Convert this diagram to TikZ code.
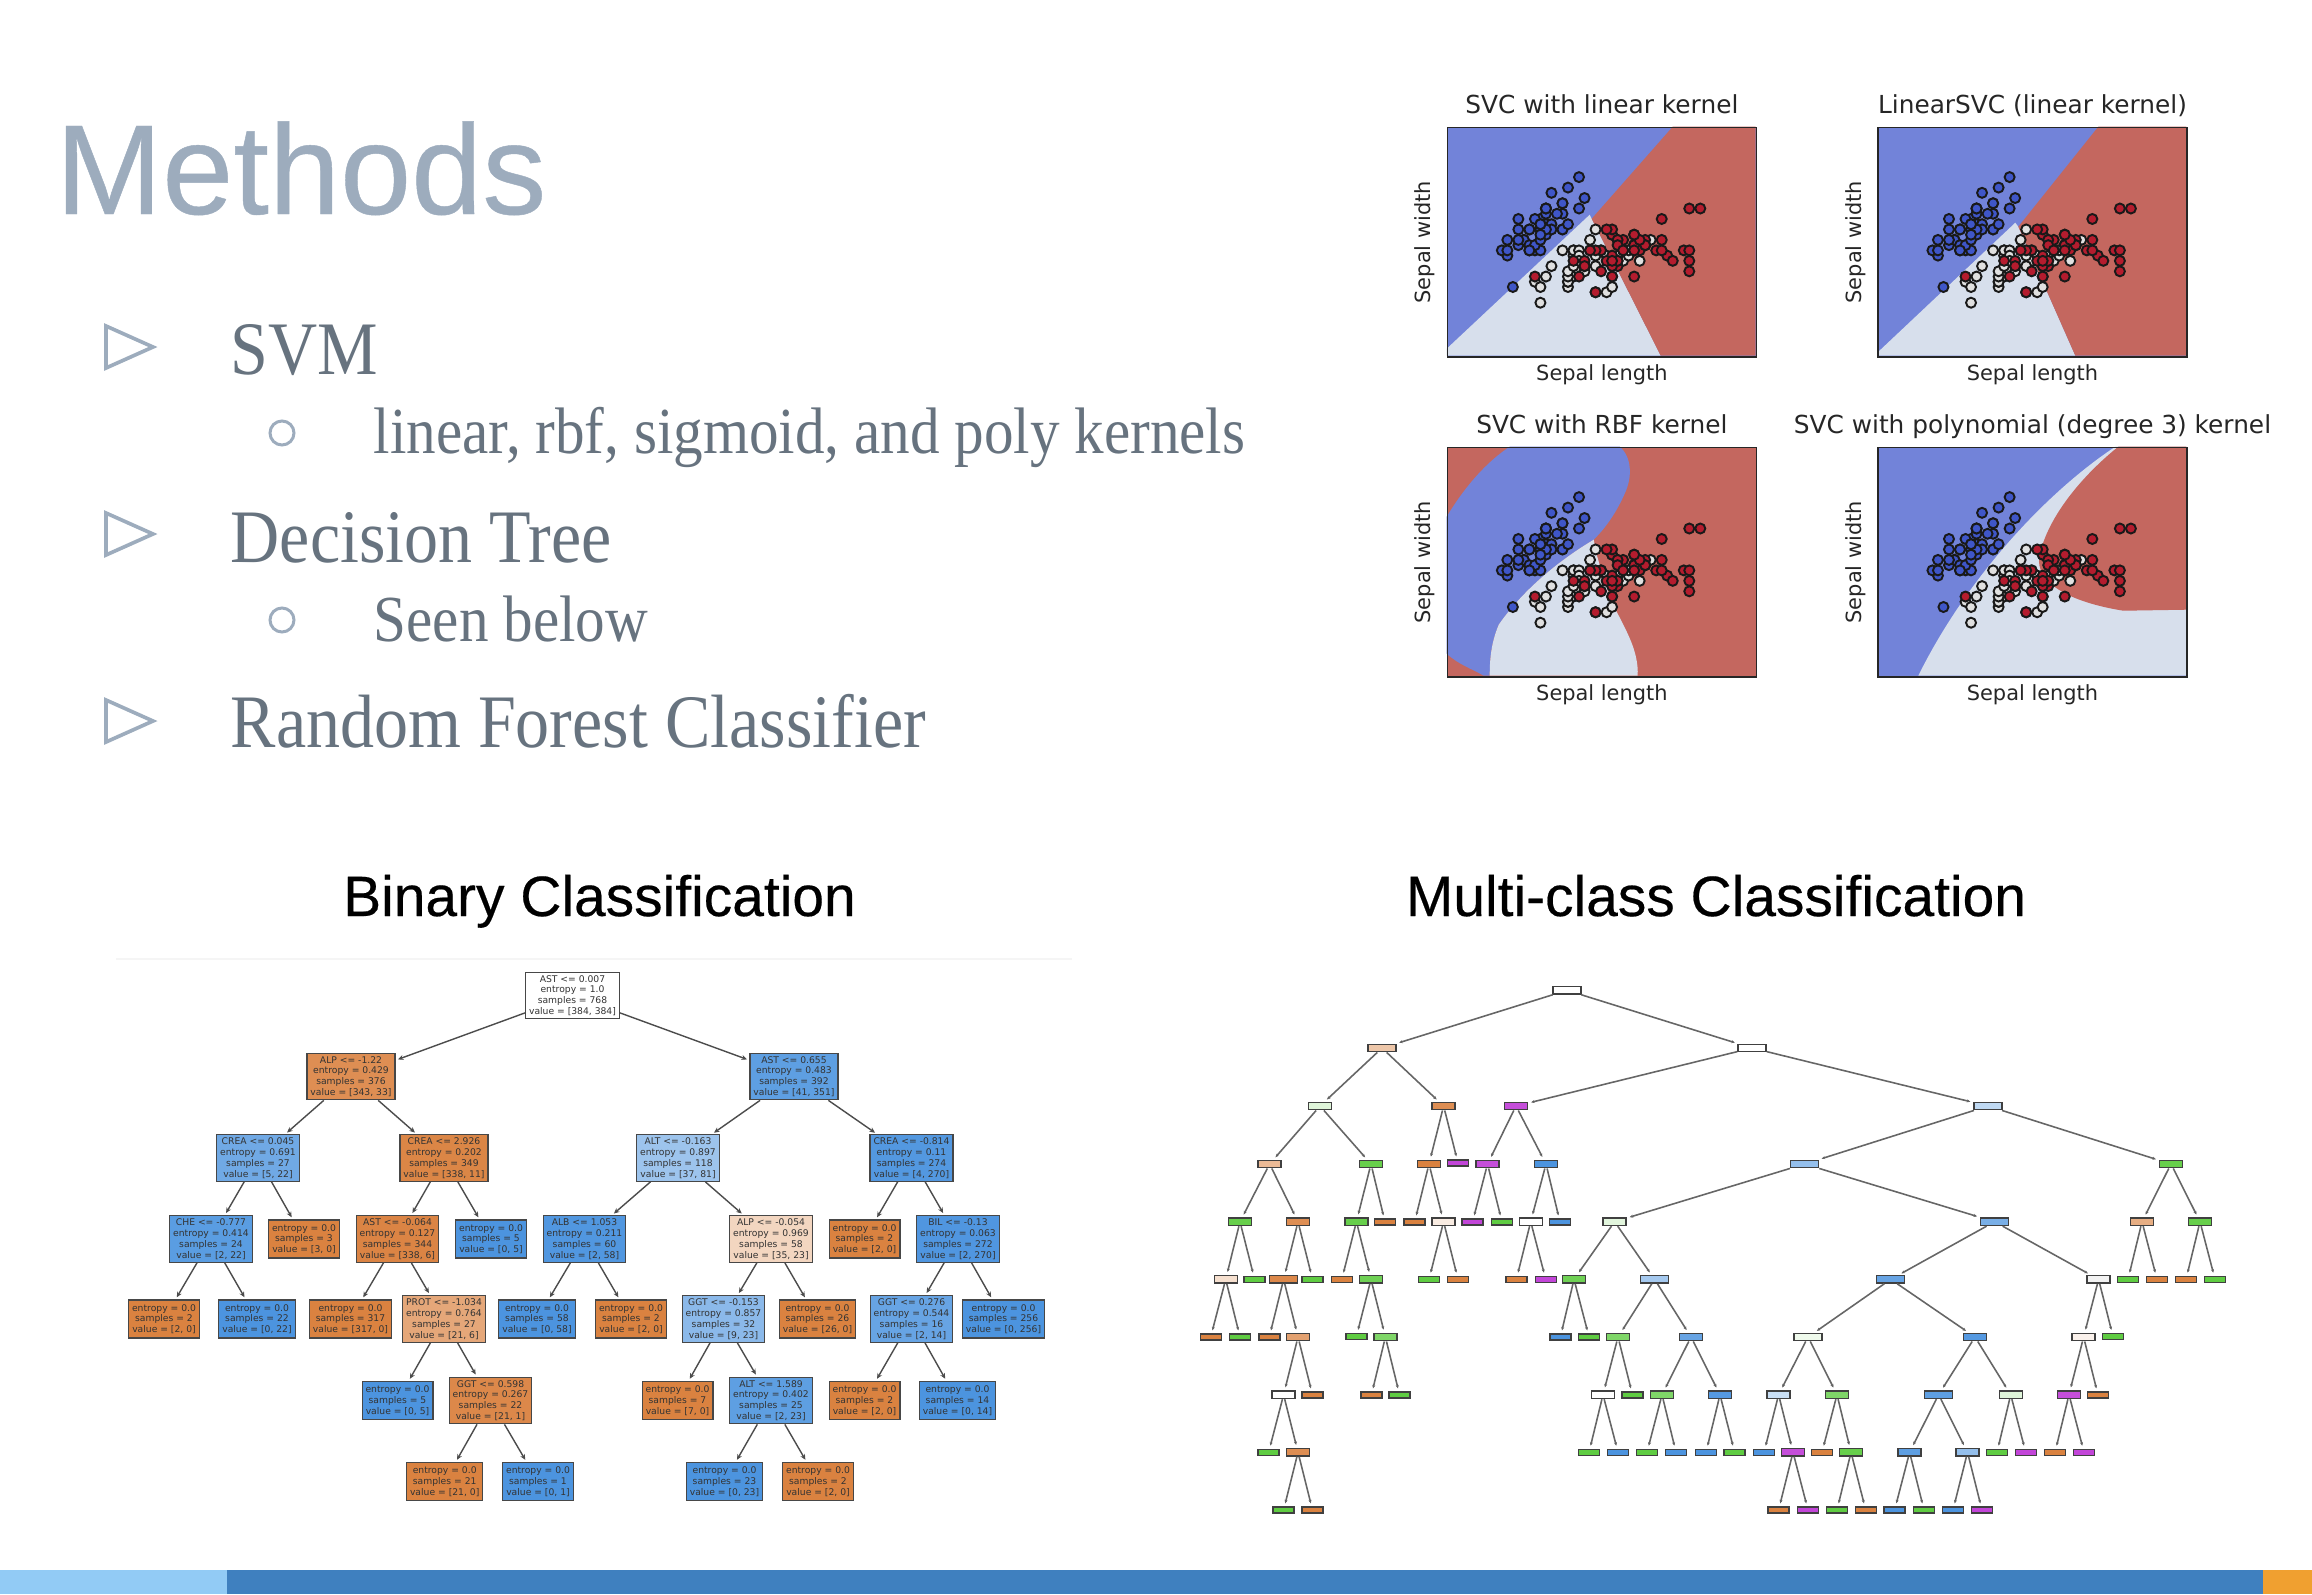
\documentclass[tikz,border=0pt]{standalone}
\usepackage{fontspec}
\usepackage{xcolor}
\usepackage{tikz}
\usetikzlibrary{arrows.meta, positioning}
\setmainfont[FakeBold=0.35]{Liberation Sans}
\newfontfamily\bodyfam[FakeStretch=0.9]{Liberation Serif}
\newfontfamily\plotfam{DejaVu Sans}
\newcommand{\treefont}{\plotfam\fontsize{2.62pt}{3.08pt}\selectfont}
\definecolor{slidetitle}{HTML}{9DACBD}
\definecolor{slidetext}{HTML}{67737F}
\definecolor{svcblue}{HTML}{7283D9}
\definecolor{svclight}{HTML}{D7DFEC}
\definecolor{svcred}{HTML}{C4675F}
\definecolor{dotblue}{HTML}{3F56C8}
\definecolor{dotlight}{HTML}{E0E0E0}
\definecolor{dotred}{HTML}{B41C2E}
\definecolor{treeorg}{HTML}{DA8240}
\definecolor{treeblu}{HTML}{4C94DF}
\definecolor{treegrn}{HTML}{5FCC42}
\definecolor{treepur}{HTML}{C245D8}
\definecolor{barlight}{HTML}{92CBF5}
\definecolor{barblue}{HTML}{3F80BF}
\definecolor{barorange}{HTML}{F0A030}
% iris data, sepal length / sepal width
\newcommand{\setosa}{5.1/3.5,4.9/3.0,4.7/3.2,4.6/3.1,5.0/3.6,5.4/3.9,4.6/3.4,5.0/3.4,4.4/2.9,4.9/3.1,5.4/3.7,4.8/3.4,4.8/3.0,4.3/3.0,5.8/4.0,5.7/4.4,5.4/3.9,5.1/3.5,5.7/3.8,5.1/3.8,5.4/3.4,5.1/3.7,4.6/3.6,5.1/3.3,4.8/3.4,5.0/3.0,5.0/3.4,5.2/3.5,5.2/3.4,4.7/3.2,4.8/3.1,5.4/3.4,5.2/4.1,5.5/4.2,4.9/3.1,5.0/3.2,5.5/3.5,4.9/3.6,4.4/3.0,5.1/3.4,5.0/3.5,4.5/2.3,4.4/3.2,5.0/3.5,5.1/3.8,4.8/3.0,5.1/3.8,4.6/3.2,5.3/3.7,5.0/3.3}
\newcommand{\versicolor}{7.0/3.2,6.4/3.2,6.9/3.1,5.5/2.3,6.5/2.8,5.7/2.8,6.3/3.3,4.9/2.4,6.6/2.9,5.2/2.7,5.0/2.0,5.9/3.0,6.0/2.2,6.1/2.9,5.6/2.9,6.7/3.1,5.6/3.0,5.8/2.7,6.2/2.2,5.6/2.5,5.9/3.2,6.1/2.8,6.3/2.5,6.1/2.8,6.4/2.9,6.6/3.0,6.8/2.8,6.7/3.0,6.0/2.9,5.7/2.6,5.5/2.4,5.5/2.4,5.8/2.7,6.0/2.7,5.4/3.0,6.0/3.4,6.7/3.1,6.3/2.3,5.6/3.0,5.5/2.5,5.5/2.6,6.1/3.0,5.8/2.6,5.0/2.3,5.6/2.7,5.7/3.0,5.7/2.9,6.2/2.9,5.1/2.5,5.7/2.8}
\newcommand{\virginica}{6.3/3.3,5.8/2.7,7.1/3.0,6.3/2.9,6.5/3.0,7.6/3.0,4.9/2.5,7.3/2.9,6.7/2.5,7.2/3.6,6.5/3.2,6.4/2.7,6.8/3.0,5.7/2.5,5.8/2.8,6.4/3.2,6.5/3.0,7.7/3.8,7.7/2.6,6.0/2.2,6.9/3.2,5.6/2.8,7.7/2.8,6.3/2.7,6.7/3.3,7.2/3.2,6.2/2.8,6.1/3.0,6.4/2.8,7.2/3.0,7.4/2.8,7.9/3.8,6.4/2.8,6.3/2.8,6.1/2.6,7.7/3.0,6.3/3.4,6.4/3.1,6.0/3.0,6.9/3.1,6.7/3.1,6.9/3.1,5.8/2.7,6.8/3.2,6.7/3.3,6.7/3.0,6.3/2.5,6.5/3.0,6.2/3.4,5.9/3.0}
\newcommand{\irispoints}{%
  \foreach \sl/\sw in \setosa {\draw[irisdot=dotblue] (55.13*\sl-181.93, 280.66-52.33*\sw) circle[radius=.5mm];}
  \foreach \sl/\sw in \versicolor {\draw[irisdot=dotlight] (55.13*\sl-181.93, 280.66-52.33*\sw) circle[radius=.5mm];}
  \foreach \sl/\sw in \virginica {\draw[irisdot=dotred] (55.13*\sl-181.93, 280.66-52.33*\sw) circle[radius=.5mm];}}

\begin{document}
\begin{tikzpicture}[x=0.1mm, y=-0.1mm, >={Stealth[length=.55mm, width=.5mm]},
  slidehead/.style={font=\fontsize{36.4pt}{40pt}\selectfont, text=slidetitle, anchor=base west, inner sep=0},
  itemone/.style={font=\bodyfam\fontsize{21.5pt}{24pt}\selectfont, text=slidetext, anchor=base west, inner sep=0},
  itemtwo/.style={font=\bodyfam\fontsize{18.7pt}{22pt}\selectfont, text=slidetext, anchor=base west, inner sep=0},
  bulletmark/.style={draw=slidetitle, line width=1.05pt},
  heading/.style={font=\fontsize{16.2pt}{18pt}\selectfont, inner sep=0, anchor=base},
  irisdot/.style={draw=black!90, line width=.55pt, fill=#1},
  axframe/.style={draw=black!85, line width=.4pt, minimum width=30.9mm, minimum height=22.95mm, inner sep=0, anchor=north west},
  axtitle/.style={font=\plotfam\fontsize{7.06pt}{8pt}\selectfont, text=black!85, inner sep=0, text height=5.3pt, text depth=1.5pt},
  axlabel/.style={font=\plotfam\fontsize{5.95pt}{7pt}\selectfont, text=black!85, inner sep=0, text height=4.5pt, text depth=1.2pt},
  tbox/.style={draw=black!72, line width=.33pt, fill=#1, align=center, font=\treefont, text=black!80,
    inner xsep=.35mm, inner ysep=.3mm, minimum height=3.8mm},
  tedge/.style={->, draw=black!70, line width=.4pt, shorten >=.25mm},
  mleaf/.style={draw=black!75, line width=.4pt, fill=#1, minimum width=2.1mm, minimum height=.6mm, inner sep=0},
  mnode/.style={mleaf=#1, minimum width=2.3mm, minimum height=.75mm},
  mwide/.style={mleaf=#1, minimum width=2.8mm, minimum height=.75mm},
  medge/.style={->, >={Stealth[length=.35mm, width=.3mm]}, draw=black!60, line width=.45pt, shorten >=.3mm}]
  \useasboundingbox (0,0) rectangle (2312,1594);

  % slide text
  \node[slidehead] (methods) at (55,214) {Methods};
  \node[itemone] (svm) at (230,374.5) {SVM};
  \node[itemtwo] (kernels) at (373,453) {linear, rbf, sigmoid, and poly kernels};
  \node[itemone] (dtree) at (230,562) {Decision Tree};
  \node[itemtwo] (seen) at (373,641) {Seen below};
  \node[itemone] (forest) at (230,747.6) {Random Forest Classifier};
  \foreach \y in {347,534,721} {\draw[bulletmark] (106,\y-21) -- (153,\y) -- (106,\y+21) -- cycle;}
  \foreach \y in {433,620} {\draw[bulletmark, line width=.85pt] (282,\y) circle[radius=1.2mm];}

  % svm panels
  \begin{scope}[shift={(1446.7,126.7)}]
    \fill[svcblue] (0,0) rectangle (309,229);
    \fill[svclight] (0,222) -- (143,88) -- (145,92) -- (214,229) -- (0,229) -- cycle;
    \fill[svcred] (226,0) -- (309,0) -- (309,229) -- (214,229) -- (145,92) -- cycle;
    \irispoints
    \node[axframe] (axA) at (0,0) {};
  \end{scope}
  \begin{scope}[shift={(1877.3,126.7)}]
    \fill[svcblue] (0,0) rectangle (309,229);
    \fill[svclight] (0,226) -- (138,96) -- (141,100) -- (198,229) -- (0,229) -- cycle;
    \fill[svcred] (221,0) -- (309,0) -- (309,229) -- (198,229) -- (141,100) -- cycle;
    \irispoints
    \node[axframe] (axB) at (0,0) {};
  \end{scope}
  \begin{scope}[shift={(1446.7,446.7)}]
    \fill[svcred] (0,0) rectangle (309,229);
    \fill[svcblue] (0,70) .. controls (18,40) and (40,15) .. (63,0) -- (173,0) .. controls (185,10) and (186,30) .. (178,47)
      .. controls (170,65) and (160,80) .. (147,93) .. controls (110,115) and (75,145) .. (52,178)
      .. controls (45,195) and (43,210) .. (43,229) -- (37,229) .. controls (25,222) and (12,218) .. (0,207) -- cycle;
    \fill[svclight] (147,93) .. controls (110,115) and (75,145) .. (52,178) .. controls (45,195) and (43,210) .. (43,229)
      -- (191,229) .. controls (192,205) and (180,185) .. (170,165) .. controls (160,145) and (155,125) .. (150,108) -- cycle;
    \irispoints
    \node[axframe] (axC) at (0,0) {};
  \end{scope}
  \begin{scope}[shift={(1877.3,446.7)}]
    \fill[svcblue] (0,0) rectangle (309,229);
    \fill[svclight] (238,0) .. controls (170,45) and (90,130) .. (41,229) -- (309,229) -- (309,0) -- cycle;
    \fill[svcred] (241,0) .. controls (206,28) and (170,70) .. (162,110) .. controls (158,135) and (190,155) .. (246,164)
      -- (309,163) -- (309,0) -- cycle;
    \irispoints
    \node[axframe] (axD) at (0,0) {};
  \end{scope}
  \node[axtitle, above=.75mm of axA] (titleA) {SVC with linear kernel};
  \node[axtitle, above=.75mm of axB] (titleB) {LinearSVC (linear kernel)};
  \node[axtitle, above=.75mm of axC] (titleC) {SVC with RBF kernel};
  \node[axtitle, above=.75mm of axD] (titleD) {SVC with polynomial (degree 3) kernel};
  \node[axlabel, below=.6mm of axA] (xlabelA) {Sepal length};
  \node[axlabel, below=.6mm of axB] (xlabelB) {Sepal length};
  \node[axlabel, below=.6mm of axC] (xlabelC) {Sepal length};
  \node[axlabel, below=.6mm of axD] (xlabelD) {Sepal length};
  \node[axlabel, rotate=90, anchor=south] (ylabelA) at ([xshift=-1.1mm]axA.west) {Sepal width};
  \node[axlabel, rotate=90, anchor=south] (ylabelB) at ([xshift=-1.1mm]axB.west) {Sepal width};
  \node[axlabel, rotate=90, anchor=south] (ylabelC) at ([xshift=-1.1mm]axC.west) {Sepal width};
  \node[axlabel, rotate=90, anchor=south] (ylabelD) at ([xshift=-1.1mm]axD.west) {Sepal width};

  % binary tree
  \node[heading] (binhead) at (599.5,916) {Binary Classification};
  \draw[black!4, line width=.3pt] (116,959) -- (1072,959);
  \node[tbox=white] (ast0) at (572.5,995.5) {AST <= 0.007\\entropy = 1.0\\samples = 768\\value = [384, 384]};
  \node[tbox=treeorg!90] (alp0) at (351,1076.5) {ALP <= -1.22\\entropy = 0.429\\samples = 376\\value = [343, 33]};
  \node[tbox=treeblu!90] (ast1) at (794,1076.5) {AST <= 0.655\\entropy = 0.483\\samples = 392\\value = [41, 351]};
  \node[tbox=treeblu!80] (crea0) at (258,1158) {CREA <= 0.045\\entropy = 0.691\\samples = 27\\value = [5, 22]};
  \node[tbox=treeorg!97] (crea1) at (444,1158) {CREA <= 2.926\\entropy = 0.202\\samples = 349\\value = [338, 11]};
  \node[tbox=treeblu!55] (alt0) at (678,1158) {ALT <= -0.163\\entropy = 0.897\\samples = 118\\value = [37, 81]};
  \node[tbox=treeblu!96] (crea2) at (911.5,1158) {CREA <= -0.814\\entropy = 0.11\\samples = 274\\value = [4, 270]};
  \node[tbox=treeblu!92] (che0) at (211,1239) {CHE <= -0.777\\entropy = 0.414\\samples = 24\\value = [2, 22]};
  \node[tbox=treeorg] (l3) at (304,1239) {entropy = 0.0\\samples = 3\\value = [3, 0]};
  \node[tbox=treeorg!98] (ast2) at (397.5,1239) {AST <= -0.064\\entropy = 0.127\\samples = 344\\value = [338, 6]};
  \node[tbox=treeblu] (l5a) at (491,1239) {entropy = 0.0\\samples = 5\\value = [0, 5]};
  \node[tbox=treeblu!97] (alb0) at (584.5,1239) {ALB <= 1.053\\entropy = 0.211\\samples = 60\\value = [2, 58]};
  \node[tbox=treeorg!33] (alp1) at (771,1239) {ALP <= -0.054\\entropy = 0.969\\samples = 58\\value = [35, 23]};
  \node[tbox=treeorg] (l2c) at (864.5,1239) {entropy = 0.0\\samples = 2\\value = [2, 0]};
  \node[tbox=treeblu!98] (bil0) at (958,1239) {BIL <= -0.13\\entropy = 0.063\\samples = 272\\value = [2, 270]};
  \node[tbox=treeorg] (l2a) at (164,1319) {entropy = 0.0\\samples = 2\\value = [2, 0]};
  \node[tbox=treeblu] (l22) at (257,1319) {entropy = 0.0\\samples = 22\\value = [0, 22]};
  \node[tbox=treeorg] (l317) at (350.5,1319) {entropy = 0.0\\samples = 317\\value = [317, 0]};
  \node[tbox=treeorg!70] (prot0) at (444,1319) {PROT <= -1.034\\entropy = 0.764\\samples = 27\\value = [21, 6]};
  \node[tbox=treeblu] (l58) at (537,1319) {entropy = 0.0\\samples = 58\\value = [0, 58]};
  \node[tbox=treeorg] (l2b) at (631,1319) {entropy = 0.0\\samples = 2\\value = [2, 0]};
  \node[tbox=treeblu!65] (ggt0) at (723.5,1319) {GGT <= -0.153\\entropy = 0.857\\samples = 32\\value = [9, 23]};
  \node[tbox=treeorg] (l26) at (817.5,1319) {entropy = 0.0\\samples = 26\\value = [26, 0]};
  \node[tbox=treeblu!85] (ggt1) at (911.5,1319) {GGT <= 0.276\\entropy = 0.544\\samples = 16\\value = [2, 14]};
  \node[tbox=treeblu] (l256) at (1003.5,1319) {entropy = 0.0\\samples = 256\\value = [0, 256]};
  \node[tbox=treeblu] (l5b) at (397.5,1400.5) {entropy = 0.0\\samples = 5\\value = [0, 5]};
  \node[tbox=treeorg!95] (ggt2) at (490.5,1400.5) {GGT <= 0.598\\entropy = 0.267\\samples = 22\\value = [21, 1]};
  \node[tbox=treeorg] (l7) at (677.5,1400.5) {entropy = 0.0\\samples = 7\\value = [7, 0]};
  \node[tbox=treeblu!90] (alt1) at (771,1400.5) {ALT <= 1.589\\entropy = 0.402\\samples = 25\\value = [2, 23]};
  \node[tbox=treeorg] (l2d) at (864.5,1400.5) {entropy = 0.0\\samples = 2\\value = [2, 0]};
  \node[tbox=treeblu] (l14) at (957.5,1400.5) {entropy = 0.0\\samples = 14\\value = [0, 14]};
  \node[tbox=treeorg] (l21) at (444.7,1481.5) {entropy = 0.0\\samples = 21\\value = [21, 0]};
  \node[tbox=treeblu] (l1) at (538,1481.5) {entropy = 0.0\\samples = 1\\value = [0, 1]};
  \node[tbox=treeblu] (l23) at (724.5,1481.5) {entropy = 0.0\\samples = 23\\value = [0, 23]};
  \node[tbox=treeorg] (l2e) at (818,1481.5) {entropy = 0.0\\samples = 2\\value = [2, 0]};
  \draw[tedge] (ast0) edge (alp0) edge (ast1);
  \draw[tedge] (alp0) edge (crea0) edge (crea1);
  \draw[tedge] (ast1) edge (alt0) edge (crea2);
  \draw[tedge] (crea0) edge (che0) edge (l3);
  \draw[tedge] (crea1) edge (ast2) edge (l5a);
  \draw[tedge] (alt0) edge (alb0) edge (alp1);
  \draw[tedge] (crea2) edge (l2c) edge (bil0);
  \draw[tedge] (che0) edge (l2a) edge (l22);
  \draw[tedge] (ast2) edge (l317) edge (prot0);
  \draw[tedge] (alb0) edge (l58) edge (l2b);
  \draw[tedge] (alp1) edge (ggt0) edge (l26);
  \draw[tedge] (bil0) edge (ggt1) edge (l256);
  \draw[tedge] (prot0) edge (l5b) edge (ggt2);
  \draw[tedge] (ggt0) edge (l7) edge (alt1);
  \draw[tedge] (ggt1) edge (l2d) edge (l14);
  \draw[tedge] (ggt2) edge (l21) edge (l1);
  \draw[tedge] (alt1) edge (l23) edge (l2e);

  % multi-class tree
  \node[heading] (multihead) at (1716,916) {Multi-class Classification};
  \node[mwide=white] (m0a) at (1567,990.3) {};
  \node[mwide=treeorg!45] (m1a) at (1382,1048) {};
  \node[mwide=white] (m1b) at (1752,1048) {};
  \node[mnode=treegrn!20] (m2a) at (1320,1106) {};
  \node[mnode=treeorg!90] (m2b) at (1443.6,1106) {};
  \node[mnode=treepur!95] (m2c) at (1516,1106) {};
  \node[mwide=treeblu!35] (m2d) at (1988,1106) {};
  \node[mnode=treeorg!55] (m3a) at (1269.6,1164) {};
  \node[mnode=treegrn!95] (m3b) at (1371,1164) {};
  \node[mnode=treeorg] (m3c) at (1429,1164) {};
  \node[mleaf=treepur] (m3d) at (1458,1163) {};
  \node[mnode=treepur!95] (m3e) at (1487.5,1164) {};
  \node[mnode=treeblu] (m3f) at (1546,1164) {};
  \node[mwide=treeblu!60] (m3g) at (1804.6,1164) {};
  \node[mnode=treegrn!95] (m3h) at (2171,1164) {};
  \node[mnode=treegrn!95] (m4a) at (1240,1221.7) {};
  \node[mnode=treeorg!90] (m4b) at (1298,1221.7) {};
  \node[mnode=treegrn!95] (m4c) at (1356.4,1221.7) {};
  \node[mleaf=treeorg] (m4d) at (1385,1222) {};
  \node[mleaf=treeorg] (m4e) at (1414.6,1222) {};
  \node[mnode=treeorg!15] (m4f) at (1443.6,1221.7) {};
  \node[mleaf=treepur] (m4g) at (1472.5,1222) {};
  \node[mleaf=treegrn] (m4h) at (1502,1222) {};
  \node[mnode=white] (m4i) at (1530.7,1221.7) {};
  \node[mleaf=treeblu] (m4j) at (1560,1222) {};
  \node[mnode=treegrn!18] (m4k) at (1614.6,1221.7) {};
  \node[mwide=treeblu!75] (m4l) at (1994.6,1221.7) {};
  \node[mnode=treeorg!65] (m4m) at (2142,1221.7) {};
  \node[mnode=treegrn!95] (m4n) at (2200,1221.7) {};
  \node[mnode=treeorg!25] (m5a) at (1225.7,1279.3) {};
  \node[mleaf=treegrn] (m5b) at (1254.6,1279.3) {};
  \node[mwide=treeorg!95] (m5c) at (1283.6,1279.3) {};
  \node[mleaf=treegrn] (m5d) at (1312.5,1279.3) {};
  \node[mleaf=treeorg] (m5e) at (1341.8,1279.3) {};
  \node[mnode=treegrn!90] (m5f) at (1371,1279.3) {};
  \node[mleaf=treegrn] (m5g) at (1429,1279.3) {};
  \node[mleaf=treeorg] (m5h) at (1458,1279.3) {};
  \node[mleaf=treeorg] (m5i) at (1516.4,1279.3) {};
  \node[mleaf=treepur] (m5j) at (1545.7,1279.3) {};
  \node[mnode=treegrn!90] (m5k) at (1574,1279.3) {};
  \node[mwide=treeblu!50] (m5l) at (1654.6,1279.3) {};
  \node[mwide=treeblu!85] (m5m) at (1890.7,1279.3) {};
  \node[mnode=black!5] (m5n) at (2098.6,1279.3) {};
  \node[mleaf=treegrn] (m5o) at (2128,1279.3) {};
  \node[mleaf=treeorg] (m5p) at (2157,1279.3) {};
  \node[mleaf=treeorg] (m5q) at (2186,1279.3) {};
  \node[mleaf=treegrn] (m5r) at (2215,1279.3) {};
  \node[mleaf=treeorg] (m6a) at (1210.7,1337) {};
  \node[mleaf=treegrn] (m6b) at (1240,1337) {};
  \node[mleaf=treeorg] (m6c) at (1269.3,1337) {};
  \node[mnode=treeorg!75] (m6d) at (1298,1337) {};
  \node[mleaf=treegrn] (m6e) at (1356.4,1336.5) {};
  \node[mnode=treegrn!80] (m6f) at (1385.4,1337) {};
  \node[mleaf=treeblu] (m6g) at (1560.4,1337) {};
  \node[mleaf=treegrn] (m6h) at (1589,1337) {};
  \node[mnode=treegrn!80] (m6i) at (1618,1337) {};
  \node[mnode=treeblu!85] (m6j) at (1691,1337) {};
  \node[mwide=treegrn!10] (m6k) at (1808,1337) {};
  \node[mnode=treeblu!95] (m6l) at (1975,1337) {};
  \node[mnode=treeorg!10] (m6m) at (2083.6,1337) {};
  \node[mleaf=treegrn] (m6n) at (2113,1336.5) {};
  \node[mnode=white] (m7a) at (1283.6,1394.7) {};
  \node[mleaf=treeorg] (m7b) at (1312.5,1395) {};
  \node[mleaf=treeorg] (m7c) at (1371.4,1395) {};
  \node[mleaf=treegrn] (m7d) at (1399.6,1395) {};
  \node[mnode=white] (m7e) at (1603,1394.7) {};
  \node[mleaf=treegrn] (m7f) at (1632.5,1395) {};
  \node[mnode=treegrn!80] (m7g) at (1662,1394.7) {};
  \node[mnode=treeblu!95] (m7h) at (1720,1394.7) {};
  \node[mnode=treeblu!30] (m7i) at (1778.6,1394.7) {};
  \node[mnode=treegrn!80] (m7j) at (1837,1394.7) {};
  \node[mwide=treeblu!90] (m7k) at (1938.6,1394.7) {};
  \node[mnode=treegrn!20] (m7l) at (2010.7,1394.7) {};
  \node[mnode=treepur!95] (m7m) at (2069,1394.7) {};
  \node[mleaf=treeorg] (m7n) at (2098,1395) {};
  \node[mleaf=treegrn] (m8a) at (1268.6,1452.3) {};
  \node[mnode=treeorg!90] (m8b) at (1298,1452.3) {};
  \node[mleaf=treegrn] (m8c) at (1589,1452.3) {};
  \node[mleaf=treeblu] (m8d) at (1618,1452.3) {};
  \node[mleaf=treegrn] (m8e) at (1647,1452.3) {};
  \node[mleaf=treeblu] (m8f) at (1676,1452.3) {};
  \node[mleaf=treeblu] (m8g) at (1706,1452.3) {};
  \node[mleaf=treegrn] (m8h) at (1734.6,1452.3) {};
  \node[mleaf=treeblu] (m8i) at (1764,1452.3) {};
  \node[mnode=treepur!95] (m8j) at (1793,1452.3) {};
  \node[mleaf=treeorg] (m8k) at (1822,1452.3) {};
  \node[mnode=treegrn!95] (m8l) at (1851,1452.3) {};
  \node[mnode=treeblu!90] (m8m) at (1909.6,1452.3) {};
  \node[mnode=treeblu!60] (m8n) at (1967.5,1452.3) {};
  \node[mleaf=treegrn] (m8o) at (1997,1452.3) {};
  \node[mleaf=treepur] (m8p) at (2025.7,1452.3) {};
  \node[mleaf=treeorg] (m8q) at (2055,1452.3) {};
  \node[mleaf=treepur] (m8r) at (2084,1452.3) {};
  \node[mleaf=treegrn] (m9a) at (1283.6,1510) {};
  \node[mleaf=treeorg] (m9b) at (1312.5,1510) {};
  \node[mleaf=treeorg] (m9c) at (1778.6,1510) {};
  \node[mleaf=treepur] (m9d) at (1808,1510) {};
  \node[mleaf=treegrn] (m9e) at (1837,1510) {};
  \node[mleaf=treeorg] (m9f) at (1865.7,1510) {};
  \node[mleaf=treeblu] (m9g) at (1894.6,1510) {};
  \node[mleaf=treegrn] (m9h) at (1924,1510) {};
  \node[mleaf=treeblu] (m9i) at (1953,1510) {};
  \node[mleaf=treepur] (m9j) at (1982,1510) {};
  \draw[medge] (m0a) edge (m1a) edge (m1b);
  \draw[medge] (m1a) edge (m2a) edge (m2b);
  \draw[medge] (m1b) edge (m2c) edge (m2d);
  \draw[medge] (m2a) edge (m3a) edge (m3b);
  \draw[medge] (m2b) edge (m3c) edge (m3d);
  \draw[medge] (m2c) edge (m3e) edge (m3f);
  \draw[medge] (m2d) edge (m3g) edge (m3h);
  \draw[medge] (m3a) edge (m4a) edge (m4b);
  \draw[medge] (m3b) edge (m4c) edge (m4d);
  \draw[medge] (m3c) edge (m4e) edge (m4f);
  \draw[medge] (m3e) edge (m4g) edge (m4h);
  \draw[medge] (m3f) edge (m4i) edge (m4j);
  \draw[medge] (m3g) edge (m4k) edge (m4l);
  \draw[medge] (m3h) edge (m4m) edge (m4n);
  \draw[medge] (m4a) edge (m5a) edge (m5b);
  \draw[medge] (m4b) edge (m5c) edge (m5d);
  \draw[medge] (m4c) edge (m5e) edge (m5f);
  \draw[medge] (m4f) edge (m5g) edge (m5h);
  \draw[medge] (m4i) edge (m5i) edge (m5j);
  \draw[medge] (m4k) edge (m5k) edge (m5l);
  \draw[medge] (m4l) edge (m5m) edge (m5n);
  \draw[medge] (m4m) edge (m5o) edge (m5p);
  \draw[medge] (m4n) edge (m5q) edge (m5r);
  \draw[medge] (m5a) edge (m6a) edge (m6b);
  \draw[medge] (m5c) edge (m6c) edge (m6d);
  \draw[medge] (m5f) edge (m6e) edge (m6f);
  \draw[medge] (m5k) edge (m6g) edge (m6h);
  \draw[medge] (m5l) edge (m6i) edge (m6j);
  \draw[medge] (m5m) edge (m6k) edge (m6l);
  \draw[medge] (m5n) edge (m6m) edge (m6n);
  \draw[medge] (m6d) edge (m7a) edge (m7b);
  \draw[medge] (m6f) edge (m7c) edge (m7d);
  \draw[medge] (m6i) edge (m7e) edge (m7f);
  \draw[medge] (m6j) edge (m7g) edge (m7h);
  \draw[medge] (m6k) edge (m7i) edge (m7j);
  \draw[medge] (m6l) edge (m7k) edge (m7l);
  \draw[medge] (m6m) edge (m7m) edge (m7n);
  \draw[medge] (m7a) edge (m8a) edge (m8b);
  \draw[medge] (m7e) edge (m8c) edge (m8d);
  \draw[medge] (m7g) edge (m8e) edge (m8f);
  \draw[medge] (m7h) edge (m8g) edge (m8h);
  \draw[medge] (m7i) edge (m8i) edge (m8j);
  \draw[medge] (m7j) edge (m8k) edge (m8l);
  \draw[medge] (m7k) edge (m8m) edge (m8n);
  \draw[medge] (m7l) edge (m8o) edge (m8p);
  \draw[medge] (m7m) edge (m8q) edge (m8r);
  \draw[medge] (m8b) edge (m9a) edge (m9b);
  \draw[medge] (m8j) edge (m9c) edge (m9d);
  \draw[medge] (m8l) edge (m9e) edge (m9f);
  \draw[medge] (m8m) edge (m9g) edge (m9h);
  \draw[medge] (m8n) edge (m9i) edge (m9j);

  % bottom bar
  \fill[barlight] (0,1570) rectangle (227,1594);
  \fill[barblue] (227,1570) rectangle (2263,1594);
  \fill[barorange] (2263,1570) rectangle (2312,1594);
\end{tikzpicture}
\end{document}
